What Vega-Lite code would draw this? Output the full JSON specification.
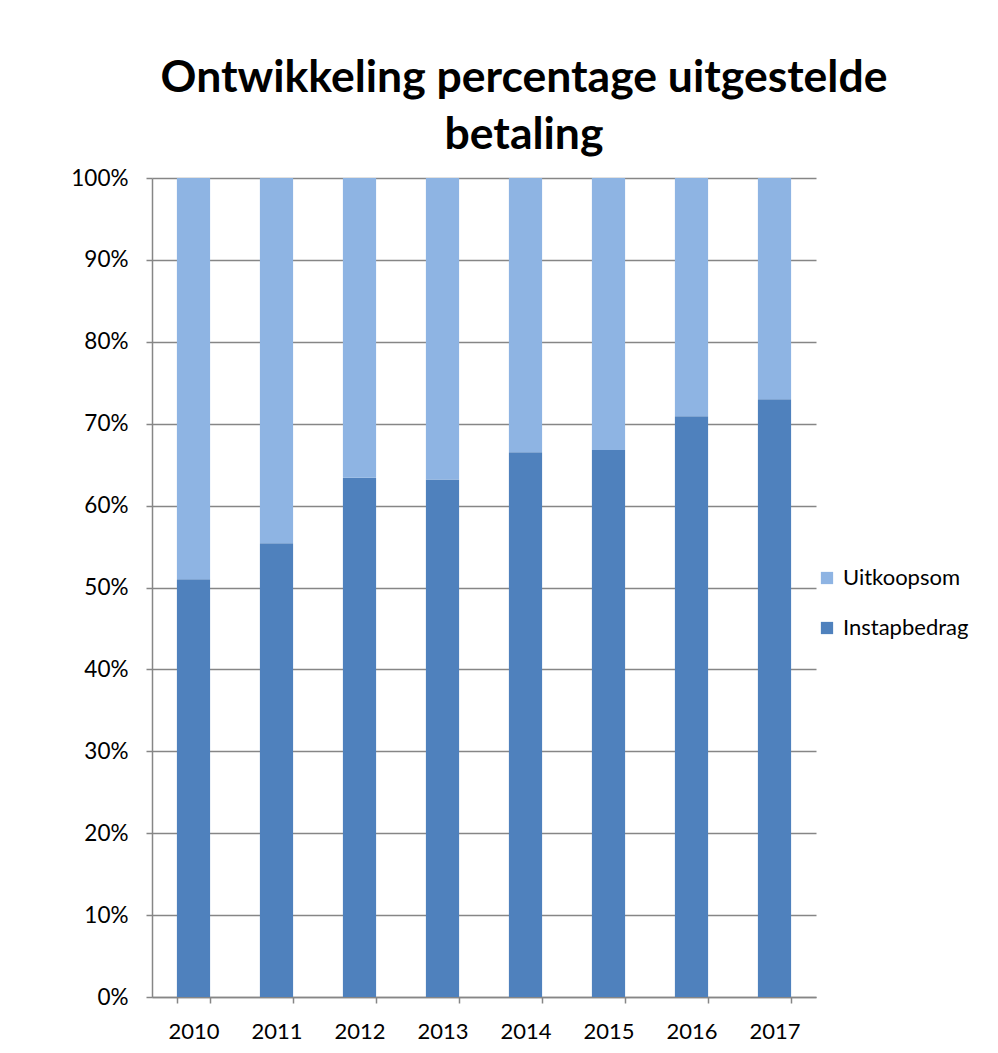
{
  "$schema": "https://vega.github.io/schema/vega-lite/v6.json",
  "width": 664,
  "height": 819,
  "autosize": {"type": "none"},
  "padding": {"left": 152, "top": 178, "right": 182, "bottom": 56},
  "background": "white",
  "title": {
    "text": ["Ontwikkeling percentage uitgestelde", "betaling"],
    "font": "Lato",
    "fontSize": 44.5,
    "fontWeight": "bold",
    "color": "#000000",
    "anchor": "middle",
    "dx": 40,
    "offset": 9,
    "lineHeight": 57
  },
  "data": {
    "values": [
      {"year": "2010", "series": "Instapbedrag", "value": 0.510, "order": 1},
      {"year": "2010", "series": "Uitkoopsom", "value": 0.490, "order": 2},
      {"year": "2011", "series": "Instapbedrag", "value": 0.554, "order": 1},
      {"year": "2011", "series": "Uitkoopsom", "value": 0.446, "order": 2},
      {"year": "2012", "series": "Instapbedrag", "value": 0.634, "order": 1},
      {"year": "2012", "series": "Uitkoopsom", "value": 0.366, "order": 2},
      {"year": "2013", "series": "Instapbedrag", "value": 0.632, "order": 1},
      {"year": "2013", "series": "Uitkoopsom", "value": 0.368, "order": 2},
      {"year": "2014", "series": "Instapbedrag", "value": 0.665, "order": 1},
      {"year": "2014", "series": "Uitkoopsom", "value": 0.335, "order": 2},
      {"year": "2015", "series": "Instapbedrag", "value": 0.668, "order": 1},
      {"year": "2015", "series": "Uitkoopsom", "value": 0.332, "order": 2},
      {"year": "2016", "series": "Instapbedrag", "value": 0.709, "order": 1},
      {"year": "2016", "series": "Uitkoopsom", "value": 0.291, "order": 2},
      {"year": "2017", "series": "Instapbedrag", "value": 0.730, "order": 1},
      {"year": "2017", "series": "Uitkoopsom", "value": 0.270, "order": 2}
    ]
  },
  "mark": {"type": "bar"},
  "encoding": {
    "x": {
      "field": "year",
      "type": "ordinal",
      "scale": {"paddingInner": 0.6, "paddingOuter": 0.3},
      "axis": {
        "title": null,
        "labelAngle": 0,
        "labelFont": "Lato",
        "labelFontSize": 22,
        "labelColor": "#000000",
        "labelPadding": 18,
        "tickBand": "extent",
        "tickSize": 6,
        "tickColor": "#868686",
        "domainColor": "#868686",
        "domainWidth": 1.5,
        "tickWidth": 1.5,
        "grid": false
      }
    },
    "y": {
      "field": "value",
      "type": "quantitative",
      "stack": "zero",
      "scale": {"domain": [0, 1], "nice": false},
      "axis": {
        "title": null,
        "format": ".0%",
        "values": [0, 0.1, 0.2, 0.3, 0.4, 0.5, 0.6, 0.7, 0.8, 0.9, 1.0],
        "labelFont": "Lato",
        "labelFontSize": 22.5,
        "labelColor": "#000000",
        "labelPadding": 18,
        "tickSize": 6,
        "tickColor": "#868686",
        "tickWidth": 1.5,
        "domainColor": "#868686",
        "domainWidth": 1.5,
        "grid": true,
        "gridColor": "#868686",
        "gridWidth": 1.5
      }
    },
    "color": {
      "field": "series",
      "type": "nominal",
      "scale": {"domain": ["Uitkoopsom", "Instapbedrag"], "range": ["#8EB4E3", "#4F81BD"]},
      "legend": {
        "title": null,
        "orient": "none",
        "legendX": 664,
        "legendY": 389,
        "symbolType": "square",
        "symbolSize": 150,
        "symbolStrokeWidth": 0,
        "labelFont": "Lato",
        "labelFontSize": 22,
        "labelColor": "#000000",
        "labelOffset": 5,
        "rowPadding": 28
      }
    },
    "order": {"field": "order", "type": "quantitative"}
  },
  "config": {
    "view": {"stroke": null}
  }
}
